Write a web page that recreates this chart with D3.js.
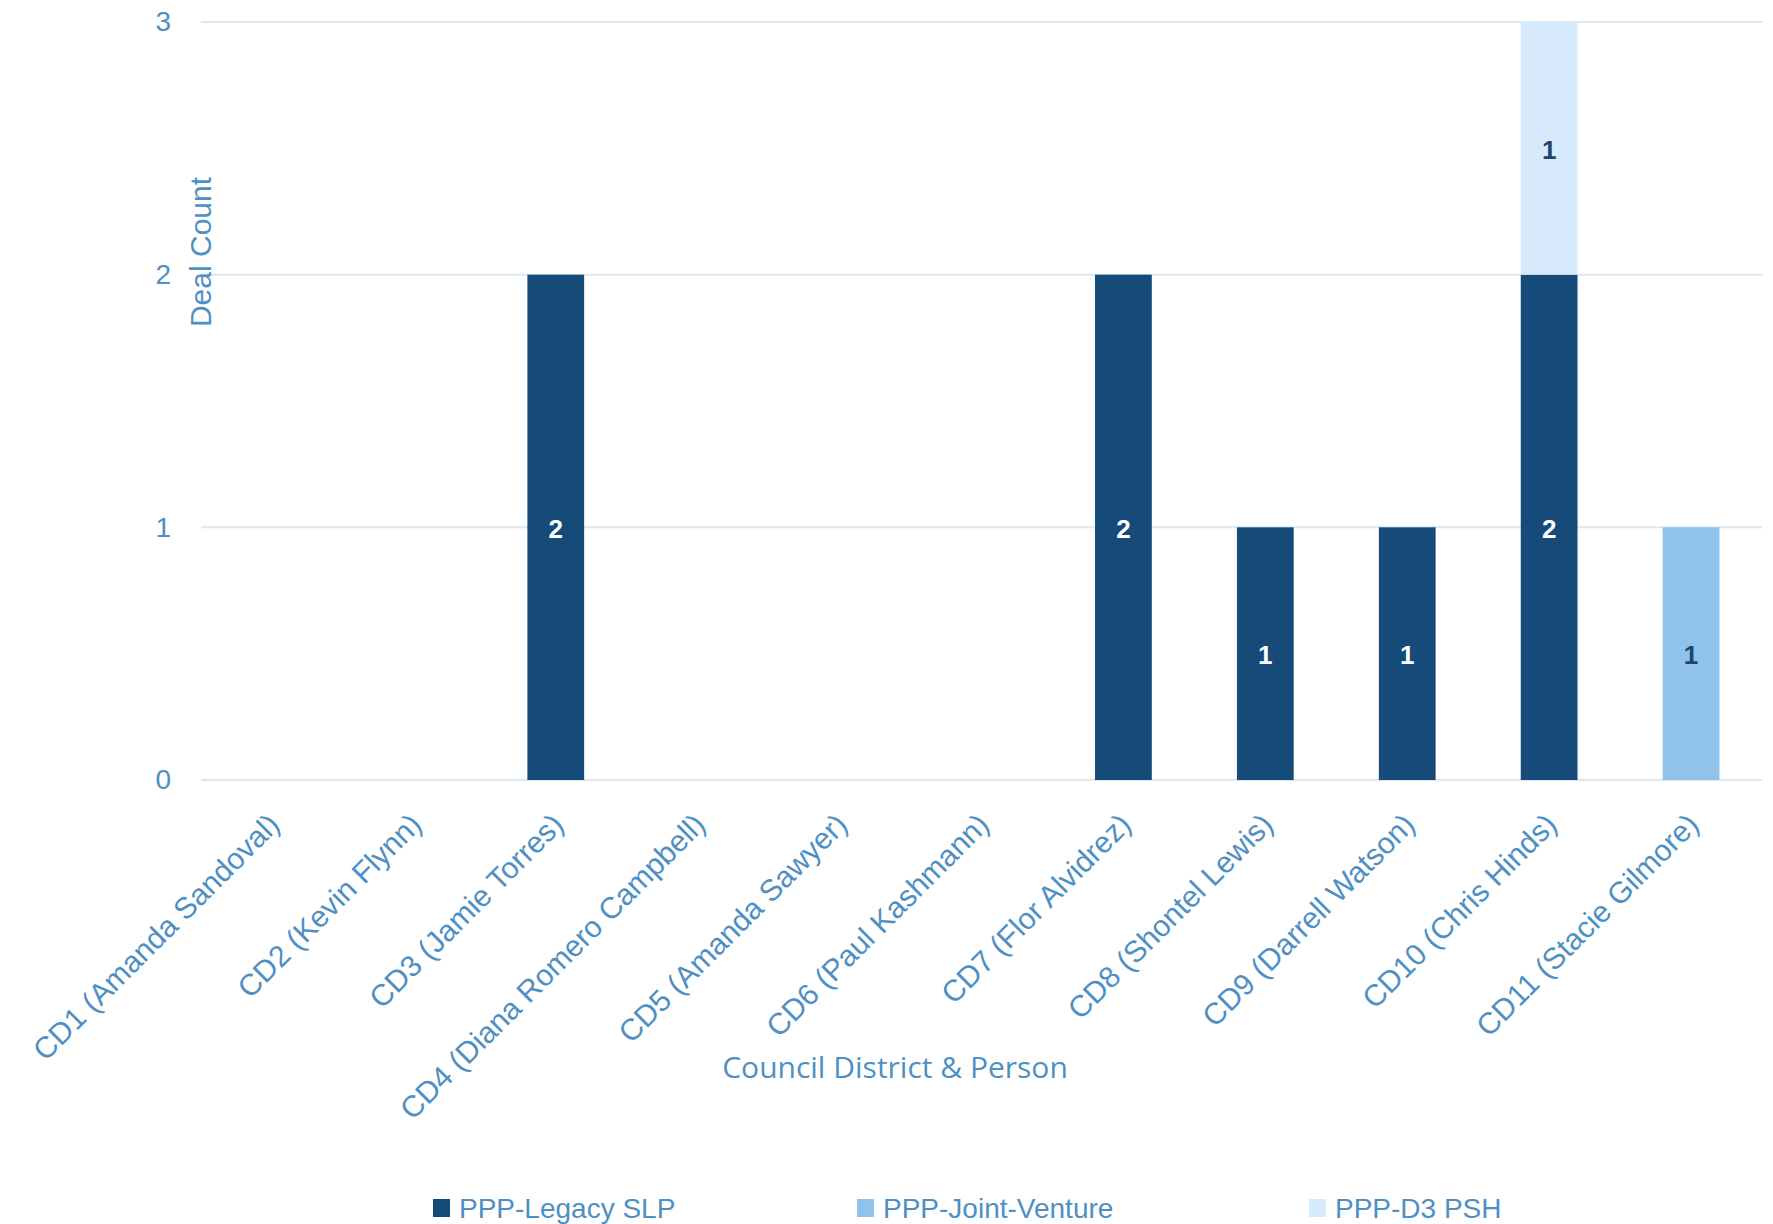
<!DOCTYPE html>
<html>
<head>
<meta charset="utf-8">
<script src="https://cdn.jsdelivr.net/npm/d3@7"></script>
<style>
  html, body { margin: 0; padding: 0; background: #ffffff; }
  svg { display: block; }
</style>
</head>
<body>
<svg id="chart" width="1773" height="1224"></svg>
<script>
// Council districts (x categories)
const categories = [
  "CD1 (Amanda Sandoval)",
  "CD2 (Kevin Flynn)",
  "CD3 (Jamie Torres)",
  "CD4 (Diana Romero Campbell)",
  "CD5 (Amanda Sawyer)",
  "CD6 (Paul Kashmann)",
  "CD7 (Flor Alvidrez)",
  "CD8 (Shontel Lewis)",
  "CD9 (Darrell Watson)",
  "CD10 (Chris Hinds)",
  "CD11 (Stacie Gilmore)"
];

// Deal counts per program type
const legacySLP    = [0, 0, 2, 0, 0, 0, 2, 1, 1, 2, 0];
const jointVenture = [0, 0, 0, 0, 0, 0, 0, 0, 0, 0, 1];
const d3PSH        = [0, 0, 0, 0, 0, 0, 0, 0, 0, 1, 0];

const seriesNames = ["PPP-Legacy SLP", "PPP-Joint-Venture", "PPP-D3 PSH"];
const yTicks = [0, 1, 2, 3];

const colors = {
  "PPP-Legacy SLP": "#164a78",
  "PPP-Joint-Venture": "#8fc3eb",
  "PPP-D3 PSH": "#d6eafb"
};
const labelColors = {
  "PPP-Legacy SLP": "#ffffff",
  "PPP-Joint-Venture": "#1f466b",
  "PPP-D3 PSH": "#1f466b"
};
const textColor = "#4e8fc4";
const gridColor = "#dbe7f2";

const rows = categories.map((c, i) => ({
  cat: c,
  "PPP-Legacy SLP": legacySLP[i],
  "PPP-Joint-Venture": jointVenture[i],
  "PPP-D3 PSH": d3PSH[i]
}));

const stacked = d3.stack().keys(seriesNames)(rows);

const svg = d3.select("#chart");
const margin = { left: 201, right: 11, top: 22, bottom: 444 };
const W = 1773, H = 1224;

const x = d3.scaleBand()
  .domain(categories)
  .range([margin.left, W - margin.right])
  .paddingInner(0.6)
  .paddingOuter(0.3);

const y = d3.scaleLinear()
  .domain([0, 3])
  .range([H - margin.bottom, margin.top]);

// Horizontal gridlines
svg.append("g")
  .selectAll("line")
  .data(yTicks)
  .join("line")
  .attr("x1", margin.left)
  .attr("x2", W - margin.right)
  .attr("y1", d => y(d))
  .attr("y2", d => y(d))
  .attr("stroke", gridColor)
  .attr("stroke-width", 2);

// Y axis tick labels
const yAxis = d3.axisLeft(y).tickValues(yTicks).tickSize(0).tickPadding(30).tickFormat(d3.format("d"));
const gy = svg.append("g")
  .attr("transform", `translate(${margin.left},0)`)
  .call(yAxis);
gy.select(".domain").remove();
gy.selectAll("text")
  .attr("fill", textColor)
  .style("font-family", "'Liberation Sans', Arial, sans-serif")
  .style("font-size", "28px");

// Stacked bars
const layer = svg.append("g")
  .selectAll("g")
  .data(stacked)
  .join("g")
  .attr("fill", d => colors[d.key]);

layer.selectAll("rect")
  .data(d => d.map(p => ({ key: d.key, p })))
  .join("rect")
  .filter(d => d.p[1] - d.p[0] > 0)
  .attr("x", d => x(d.p.data.cat))
  .attr("width", x.bandwidth())
  .attr("y", d => y(d.p[1]))
  .attr("height", d => y(d.p[0]) - y(d.p[1]));

// Value labels centred in each segment
const segs = [];
stacked.forEach(s => s.forEach(p => {
  const v = p[1] - p[0];
  if (v > 0) segs.push({ key: s.key, p, v });
}));
svg.append("g")
  .selectAll("text")
  .data(segs)
  .join("text")
  .attr("x", d => x(d.p.data.cat) + x.bandwidth() / 2)
  .attr("y", d => y((d.p[0] + d.p[1]) / 2))
  .attr("dy", "0.4em")
  .attr("text-anchor", "middle")
  .attr("fill", d => labelColors[d.key])
  .style("font-family", "'Liberation Sans', Arial, sans-serif")
  .style("font-weight", "bold")
  .style("font-size", "26px")
  .text(d => d.v);

// X axis category labels, rotated
const xAxis = d3.axisBottom(x).tickSize(0).tickPadding(0);
const gx = svg.append("g")
  .attr("transform", `translate(0,${y(0)})`)
  .call(xAxis);
gx.select(".domain").remove();
gx.selectAll("text")
  .attr("fill", textColor)
  .style("font-family", "'Liberation Sans', Arial, sans-serif")
  .style("font-size", "30px")
  .attr("text-anchor", "end")
  .attr("transform", "translate(2,39) rotate(-45)")
  .attr("dy", "0.35em")
  .attr("y", 0);

// Axis titles
svg.append("text")
  .attr("x", 895)
  .attr("y", 1078)
  .attr("text-anchor", "middle")
  .attr("fill", textColor)
  .style("font-family", "'Open Sans', 'Liberation Sans', sans-serif")
  .style("font-size", "30px")
  .text("Council District & Person");

svg.append("text")
  .attr("transform", "translate(211,252) rotate(-90)")
  .attr("text-anchor", "middle")
  .attr("fill", textColor)
  .style("font-family", "'Liberation Sans', Arial, sans-serif")
  .style("font-size", "30px")
  .text("Deal Count");

// Legend
const legendX = [433, 857, 1309];
const legend = svg.append("g")
  .selectAll("g")
  .data(seriesNames)
  .join("g")
  .attr("transform", (d, i) => `translate(${legendX[i]},1199)`);
legend.append("rect")
  .attr("width", 17)
  .attr("height", 18)
  .attr("fill", d => colors[d]);
legend.append("text")
  .attr("x", 26)
  .attr("y", 19)
  .attr("fill", textColor)
  .style("font-family", "'Liberation Sans', sans-serif")
  .style("font-size", "28px")
  .text(d => d);
</script>
</body>
</html>
